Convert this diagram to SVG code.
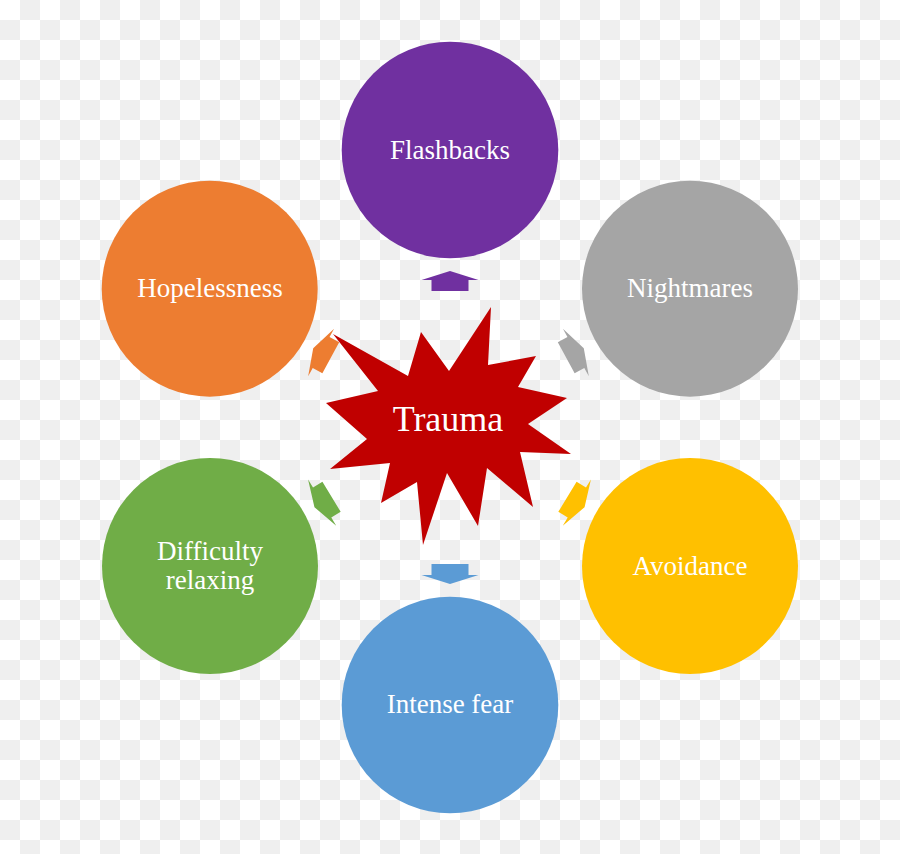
<svg xmlns="http://www.w3.org/2000/svg" width="900" height="854" viewBox="0 0 900 854">
  <defs>
    <pattern id="checker" x="0" y="0" width="40" height="40" patternUnits="userSpaceOnUse">
      <rect width="40" height="40" fill="#ffffff"/>
      <rect x="20" y="0" width="20" height="20" fill="#efefef"/>
      <rect x="0" y="20" width="20" height="20" fill="#efefef"/>
    </pattern>
    <path id="arrow" d="M0,-10 L28.5,-1 L18.5,-1 L18.5,10 L-18.5,10 L-18.5,-1 L-28.5,-1 Z"/>
    <style>
      .lbl { font-family: "Liberation Serif", "Times New Roman", serif; font-size: 27px; fill: #ffffff; text-anchor: middle; }
      .big { font-family: "Liberation Serif", "Times New Roman", serif; font-size: 36px; fill: #ffffff; text-anchor: middle; }
    </style>
  </defs>
  <rect width="900" height="854" fill="url(#checker)"/>

  <g id="connectors">
    <use href="#arrow" fill="#7030a0" transform="translate(450,281)"/>
    <use href="#arrow" fill="#a5a5a5" transform="translate(575,353) rotate(61.4) scale(0.95,1)"/>
    <use href="#arrow" fill="#ffc000" transform="translate(576,502) rotate(121.3) scale(0.95,1)"/>
    <use href="#arrow" fill="#5b9bd5" transform="translate(450,574) rotate(180)"/>
    <use href="#arrow" fill="#70ad47" transform="translate(323,502) rotate(-121.3) scale(0.95,1)"/>
    <use href="#arrow" fill="#ed7d31" transform="translate(322,353) rotate(-61.4) scale(0.95,1)"/>
  </g>

  <g id="flashbacks">
    <circle cx="450" cy="150" r="108.3" fill="#7030a0"/>
    <text class="lbl" x="450" y="158.5">Flashbacks</text>
  </g>
  <g id="nightmares">
    <circle cx="690" cy="288.7" r="108" fill="#a5a5a5"/>
    <text class="lbl" x="690" y="297">Nightmares</text>
  </g>
  <g id="avoidance">
    <circle cx="690" cy="566" r="108" fill="#ffc000"/>
    <text class="lbl" x="690" y="574.5">Avoidance</text>
  </g>
  <g id="intense-fear">
    <circle cx="450" cy="705" r="108.3" fill="#5b9bd5"/>
    <text class="lbl" x="450" y="713">Intense fear</text>
  </g>
  <g id="difficulty-relaxing">
    <circle cx="210" cy="566" r="108" fill="#70ad47"/>
    <text class="lbl" x="210" y="560">Difficulty</text>
    <text class="lbl" x="210" y="589">relaxing</text>
  </g>
  <g id="hopelessness">
    <circle cx="209.7" cy="288.7" r="108" fill="#ed7d31"/>
    <text class="lbl" x="210" y="297">Hopelessness</text>
  </g>

  <g id="trauma">
    <polygon fill="#c00000" points="491,307 488,365 536,356 518,387 567,398 528,424 571,454 520,452 533,507 487,468 478,526 447,473 423,545 417,482 381,503 390,463 330,469 367,439 326,403 378,391 333,334 408,376 421,332 449,371"/>
    <text class="big" x="448" y="431">Trauma</text>
  </g>
</svg>
